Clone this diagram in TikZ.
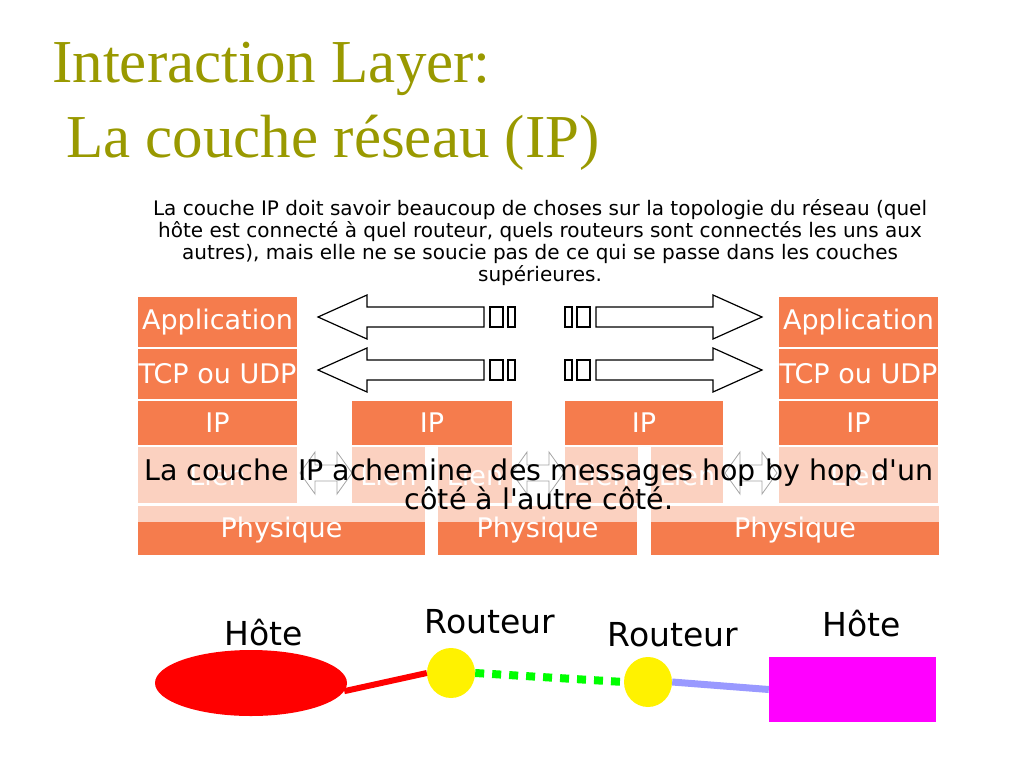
\documentclass[tikz,border=0pt]{standalone}
\usepackage{fontspec}
\newfontfamily\sansfnt{DejaVu Sans}
\newfontfamily\titlefnt{Liberation Serif}
\usetikzlibrary{shapes.geometric,positioning}

\definecolor{titleolive}{RGB}{153,153,0}
\definecolor{layerorange}{RGB}{245,124,77}
\definecolor{linkgreen}{RGB}{0,255,0}
\definecolor{linklavender}{RGB}{153,153,255}
\definecolor{hostmagenta}{RGB}{255,0,255}

\begin{document}
\begin{tikzpicture}[x=1pt,y=-1pt,
			layer/.style={rectangle,fill=layerorange,inner sep=0pt,text=white,font=\sansfnt\fontsize{27}{30}\selectfont},
			big arrow/.style={draw=black,fill=white,line width=1.2pt,line join=miter},
			small arrow/.style={draw=black,fill=white,line width=0.8pt},
			veil/.style={rectangle,fill=white,fill opacity=0.65,text opacity=1,inner sep=0pt,align=center,font=\sansfnt\fontsize{28.5}{29}\selectfont},
			site label/.style={anchor=base,font=\sansfnt\fontsize{33}{36}\selectfont},
			router node/.style={ellipse,fill=yellow,minimum width=48pt,minimum height=50pt,inner sep=0pt}
			]
			\useasboundingbox (0,0) rectangle (1024,768);

			% title
			\node[anchor=base west,inner sep=0pt,text=titleolive,font=\titlefnt\fontsize{61}{70}\selectfont] (title1) at (52,82) {Interaction Layer:};
			\node[anchor=base west,inner sep=0pt,text=titleolive,font=\titlefnt\fontsize{61}{70}\selectfont] (title2) at (66,157) {La couche réseau (IP)};

			\node[align=center,inner sep=0pt,font=\sansfnt\fontsize{20}{22}\selectfont] (intro) at (540,243)
				{La couche IP doit savoir beaucoup de choses sur la topologie du réseau (quel\\
				 hôte est connecté à quel routeur, quels routeurs sont connectés les uns aux\\
				 autres), mais elle ne se soucie pas de ce qui se passe dans les couches\\
				 supérieures.};

			% host stacks
			\node[layer,minimum width=159pt,minimum height=50pt] (app-a) at (217.5,322) {Application};
			\node[layer,minimum width=159pt,minimum height=50pt] (tcp-a) at (217.5,374) {TCP ou UDP};
			\node[layer,minimum width=159pt,minimum height=44pt] (ip-a) at (217.5,423) {IP};
			\node[layer,minimum width=159pt,minimum height=56pt] (lien-a) at (217.5,475) {Lien};
			\node[layer,minimum width=159pt,minimum height=50pt] (app-b) at (858.5,322) {Application};
			\node[layer,minimum width=159pt,minimum height=50pt] (tcp-b) at (858.5,374) {TCP ou UDP};
			\node[layer,minimum width=159pt,minimum height=44pt] (ip-b) at (858.5,423) {IP};
			\node[layer,minimum width=159pt,minimum height=56pt] (lien-b) at (858.5,475) {Lien};

			% router stacks
			\node[layer,minimum width=160pt,minimum height=44pt] (ip-r1) at (432,423) {IP};
			\node[layer,minimum width=73pt,minimum height=56pt] (lien-r1a) at (388.5,475) {Lien};
			\node[layer,minimum width=74pt,minimum height=56pt] (lien-r1b) at (475,475) {Lien};
			\node[layer,minimum width=158pt,minimum height=44pt] (ip-r2) at (644,423) {IP};
			\node[layer,minimum width=73pt,minimum height=56pt] (lien-r2a) at (601.5,475) {Lien};
			\node[layer,minimum width=72pt,minimum height=56pt] (lien-r2b) at (687,475) {Lien};

			\node[layer,minimum width=287pt,minimum height=49pt] (phys-a) at (281.5,530.5) {Physique};
			\node[layer,minimum width=199pt,minimum height=49pt] (phys-m) at (537.5,530.5) {Physique};
			\node[layer,minimum width=288pt,minimum height=49pt] (phys-b) at (795,530.5) {Physique};

			% striped arrows
			\foreach \c in {317,370} {
				\draw[big arrow] (318,\c) -- (367,\c-22) -- (367,\c-10) -- (484,\c-10) -- (484,\c+10) -- (367,\c+10) -- (367,\c+22) -- cycle;
				\draw[big arrow] (490,\c-10) rectangle (503,\c+10);
				\draw[big arrow] (508,\c-10) rectangle (515,\c+10);
				\draw[big arrow] (565,\c-10) rectangle (572,\c+10);
				\draw[big arrow] (577,\c-10) rectangle (590,\c+10);
				\draw[big arrow] (762,\c) -- (713,\c-22) -- (713,\c-10) -- (596,\c-10) -- (596,\c+10) -- (713,\c+10) -- (713,\c+22) -- cycle;
			}

			\foreach \x in {326,538,751}
				\draw[small arrow] (\x-26,473) -- (\x-11,452) -- (\x-11,465) -- (\x+11,465) -- (\x+11,452) -- (\x+26,473)
					-- (\x+11,494) -- (\x+11,481) -- (\x-11,481) -- (\x-11,494) -- cycle;

			\node[veil,minimum width=802pt,minimum height=75pt] (hop) at (539,484.5)
				{La couche IP achemine\ \ des messages hop by hop d'un\\ côté à l'autre côté.};

			% network
			\node[ellipse,fill=red,minimum width=192pt,minimum height=66pt] (hote-a) at (251,683) {};
			\node[router node] (routeur-a) at (451,673) {};
			\node[router node] (routeur-b) at (648,682) {};
			\node[rectangle,fill=hostmagenta,minimum width=167pt,minimum height=65pt] (hote-b) at (852.5,689.5) {};

			\draw[red,line width=6pt] (hote-a.-5) -- (routeur-a.west);
			\draw[linkgreen,line width=8pt,dash pattern=on 9pt off 8pt] (routeur-a.east) -- (routeur-b.west);
			\draw[linklavender,line width=7pt] (routeur-b.east) -- (hote-b.west);

			\node[site label] (lbl-hote-a) at (264,645) {Hôte};
			\node[site label] (lbl-routeur-a) at (490,633) {Routeur};
			\node[site label] (lbl-routeur-b) at (673,646) {Routeur};
			\node[site label] (lbl-hote-b) at (862,636) {Hôte};
		\end{tikzpicture}
\end{document}
